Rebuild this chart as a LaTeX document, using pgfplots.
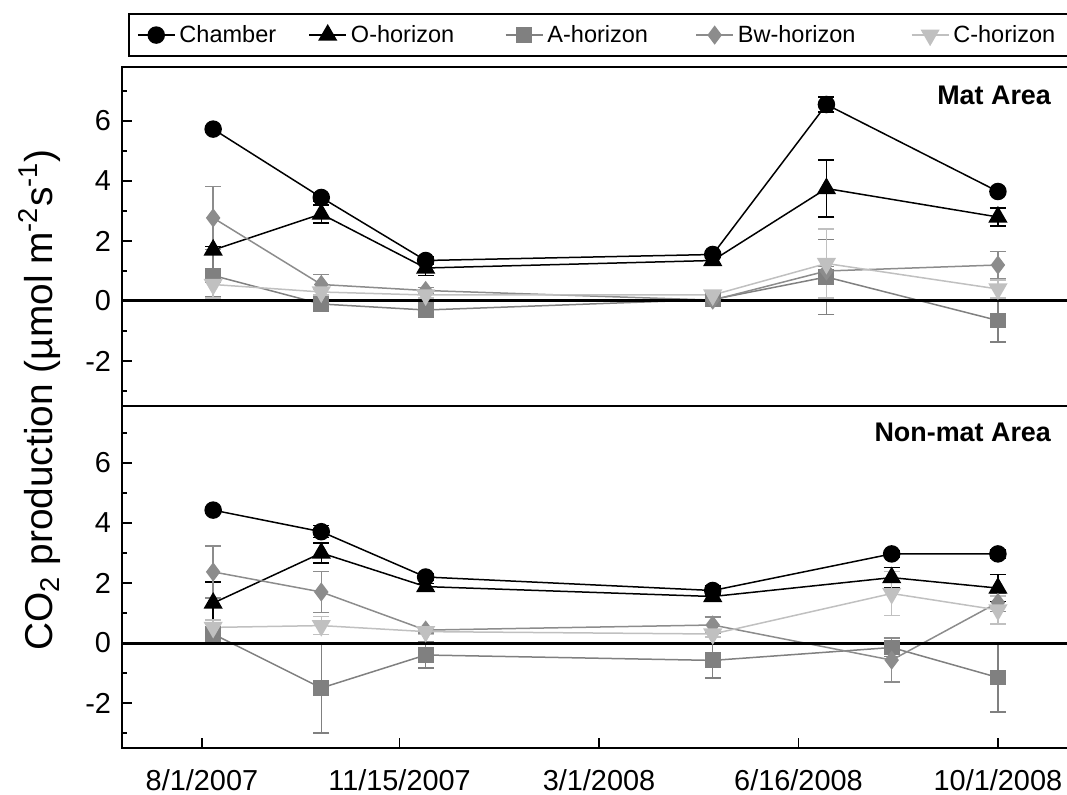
\documentclass[border=0pt]{standalone}
\usepackage{fontspec}
\setmainfont{Liberation Sans}
\usepackage{pgfplots}
\pgfplotsset{compat=1.18}
\usepackage{pgfplotstable}

\definecolor{agray}{RGB}{128,128,128}
\definecolor{bgray}{RGB}{140,140,140}
\definecolor{cgray}{RGB}{192,192,192}

% ---------- Mat Area ----------
\pgfplotstableread{
x y e
6 5.73 0.08
64 3.45 0.12
120 1.35 0.12
274 1.55 0.10
335 6.55 0.25
427 3.65 0.10
}\matCh
\pgfplotstableread{
x y e
6 1.70 0.12
64 2.90 0.30
120 1.10 0.25
274 1.35 0.10
335 3.75 0.95
427 2.80 0.30
}\matO
\pgfplotstableread{
x y e
6 0.85 0.70
64 -0.10 0.10
120 -0.30 0.10
274 0.05 0.05
335 0.80 1.25
427 -0.65 0.72
}\matA
\pgfplotstableread{
x y e
6 2.77 1.05
64 0.55 0.33
120 0.35 0.10
274 0.03 0.05
335 1.00 0.15
427 1.20 0.45
}\matB
\pgfplotstableread{
x y e
6 0.55 0.45
64 0.30 0.10
120 0.20 0.10
274 0.20 0.05
335 1.25 1.15
427 0.40 0.30
}\matC

% ---------- Non-mat Area ----------
\pgfplotstableread{
x y e
6 4.43 0.08
64 3.71 0.20
120 2.20 0.10
274 1.75 0.15
370 2.97 0.10
427 2.97 0.15
}\nonCh
\pgfplotstableread{
x y e
6 1.33 0.70
64 3.00 0.33
120 1.88 0.10
274 1.55 0.12
370 2.18 0.33
427 1.83 0.45
}\nonO
\pgfplotstableread{
x y e
6 0.30 0.25
64 -1.50 1.50
120 -0.40 0.43
274 -0.58 0.58
370 -0.15 0.30
427 -1.15 1.15
}\nonA
\pgfplotstableread{
x y e
6 2.37 0.87
64 1.70 0.68
120 0.43 0.10
274 0.60 0.27
370 -0.57 0.73
427 1.35 0.30
}\nonB
\pgfplotstableread{
x y e
6 0.52 0.25
64 0.58 0.30
120 0.38 0.10
274 0.30 0.10
370 1.65 0.73
427 1.10 0.47
}\nonC

\pgfplotsset{
  ser/.style={color=#1, line width=0.75bp,
    error bars/y dir=both, error bars/y explicit,
    error bars/error bar style={line width=0.75bp, color=#1},
    error bars/error mark options={rotate=90, line width=0.75bp, color=#1, mark size=4bp}},
  sCh/.style={ser=black, mark=*, mark size=4bp, mark options={solid, fill=black, draw=black}},
  sO/.style={ser=black, mark=triangle*, mark size=4.8bp, mark options={solid, fill=black, draw=black}},
  sA/.style={ser=agray, mark=square*, mark size=3.6bp, mark options={solid, fill=agray, draw=agray}},
  sB/.style={ser=bgray, mark=diamond*, mark size=4.2bp, mark options={solid, fill=bgray, draw=bgray}},
  sC/.style={ser=cgray, mark=triangle*, mark size=4.8bp, mark options={solid, fill=cgray, draw=cgray, rotate=180}},
  panel/.style={
    scale only axis, width=473bp,
    xmin=-42.9, xmax=464.6,
    axis line style={line width=1bp},
    ytick={-2,0,2,4,6}, yticklabels={-2,0,2,4,6},
    minor ytick={-3,-1,1,3,5,7},
    ytick pos=left, tick align=inside,
    major tick length=5bp, minor tick length=2.5bp,
    every tick/.style={black, line width=0.8bp},
    tick label style={font=\fontsize{14.5}{16}\selectfont},
    yticklabel style={xshift=-2bp},
    legend image code/.code={\draw[mark repeat=2,mark phase=2,##1] plot coordinates {(0bp,0bp) (9.25bp,0bp) (18.5bp,0bp)};},
  },
}

\begin{document}
\begin{tikzpicture}
% ---------- upper panel ----------
\begin{axis}[panel,
  at={(61bp,194.5bp)}, anchor=south west, height=169.5bp,
  ymin=-3.5, ymax=7.8,
  xtick=\empty,
  legend columns=5,
  legend style={at={(0,1.162)}, anchor=north west, xshift=3bp, yshift=-0.5bp, draw=black, line width=1bp,
    font=\fontsize{11.8}{13}\selectfont, inner xsep=4bp, inner ysep=3.5bp,
    /tikz/every even column/.append style={column sep=0pt}},
]
\addplot[sCh] table[x=x, y=y, y error=e] {\matCh};
\addlegendentry{\makebox[62.5bp][l]{Chamber}}
\addplot[sO] table[x=x, y=y, y error=e] {\matO};
\addlegendentry{\makebox[75bp][l]{O-horizon}}
\addplot[sA] table[x=x, y=y, y error=e] {\matA};
\addlegendentry{\makebox[72bp][l]{A-horizon}}
\addplot[sB] table[x=x, y=y, y error=e] {\matB};
\addlegendentry{\makebox[84.5bp][l]{Bw-horizon}}
\addplot[sC] table[x=x, y=y, y error=e] {\matC};
\addlegendentry{\makebox[58bp][l]{C-horizon}}
\addplot[forget plot, black, line width=1.5bp] coordinates {(-42.9,0) (464.6,0)};
\node[anchor=east, font=\fontsize{13.5}{15}\bfseries\selectfont] at (rel axis cs:0.9894,0.917) {Mat Area};
\end{axis}
% ---------- lower panel ----------
\begin{axis}[panel,
  at={(61bp,23.5bp)}, anchor=south west, height=171bp,
  ymin=-3.5, ymax=7.9,
  xtick={0,106,213,320,427},
  xticklabels={8/1/2007,11/15/2007,3/1/2008,6/16/2008,10/1/2008},
  xtick pos=bottom,
  xticklabel style={yshift=-7.5bp},
]
\addplot[sCh] table[x=x, y=y, y error=e] {\nonCh};
\addplot[sO] table[x=x, y=y, y error=e] {\nonO};
\addplot[sA] table[x=x, y=y, y error=e] {\nonA};
\addplot[sB] table[x=x, y=y, y error=e] {\nonB};
\addplot[sC] table[x=x, y=y, y error=e] {\nonC};
\addplot[black, line width=1.5bp] coordinates {(-42.9,0) (464.6,0)};
\node[anchor=east, font=\fontsize{13.5}{15}\bfseries\selectfont] at (rel axis cs:0.9894,0.924) {Non-mat Area};
\end{axis}
\node[rotate=90, font=\fontsize{19.5}{22}\selectfont] at (20bp,197.5bp)
  {CO\textsubscript{2} production (µmol m\textsuperscript{-2}s\textsuperscript{-1})};
\pgfresetboundingbox
\path[use as bounding box] (0,0) rectangle (533.5bp,397.5bp);
\end{tikzpicture}
\end{document}
